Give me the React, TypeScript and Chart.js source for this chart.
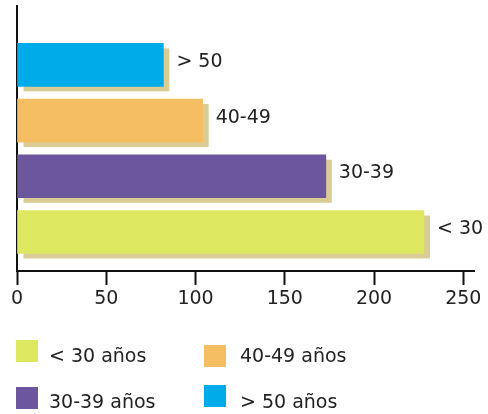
import React, { useEffect, useRef } from "react";
import { Chart, registerables } from "chart.js";
Chart.register(...registerables);

// ---- data ----
const categories = ["> 50", "40-49", "30-39", "< 30"];
const values = [82, 104, 173, 228];
const barColors = ["#00abea", "#f5be62", "#6c569e", "#dde75f"];
const legendLabels = ["> 50 años", "40-49 años", "30-39 años", "< 30 años"];
// legend grid, row-major (row1: col1, col2; row2: col1, col2) -> index into categories
const legendOrder = [3, 1, 2, 0];
const xTicks = [0, 50, 100, 150, 200, 250];

const SHADOW = "#d9cc95";
const TEXT = "#222222";
const FONT = "DejaVu Sans";
const FONT_SIZE = 19;

const shadowPlugin = {
  id: "barShadow",
  beforeDatasetsDraw(chart: any) {
    const meta = chart.getDatasetMeta(0);
    const ctx = chart.ctx;
    ctx.save();
    ctx.fillStyle = SHADOW;
    meta.data.forEach((bar: any) => {
      const { x, y, base, height } = bar.getProps(["x", "y", "base", "height"], true);
      ctx.fillRect(base + 6, y - height / 2 + 5, x - base, height);
    });
    ctx.restore();
  },
};

const labelPlugin = {
  id: "barLabels",
  afterDatasetsDraw(chart: any) {
    const meta = chart.getDatasetMeta(0);
    const ctx = chart.ctx;
    ctx.save();
    ctx.fillStyle = TEXT;
    ctx.font = `${FONT_SIZE}px "${FONT}"`;
    ctx.textAlign = "left";
    ctx.textBaseline = "alphabetic";
    meta.data.forEach((bar: any, i: number) => {
      const { x, y } = bar.getProps(["x", "y"], true);
      ctx.fillText(categories[i], x + 13, y + 2);
    });
    ctx.restore();
  },
};

const legendPlugin = {
  id: "gridLegend",
  afterDraw(chart: any) {
    const ctx = chart.ctx;
    const colX = [16, 204];
    const textX = [49, 240];
    const boxTop = [[340, 345], [387, 385]];
    const baseY = [362, 408];
    const box = 22;
    ctx.save();
    ctx.font = `${FONT_SIZE}px "${FONT}"`;
    ctx.textAlign = "left";
    ctx.textBaseline = "alphabetic";
    legendOrder.forEach((idx, k) => {
      const row = Math.floor(k / 2);
      const col = k % 2;
      ctx.fillStyle = barColors[idx];
      ctx.fillRect(colX[col], boxTop[row][col], box, box);
      ctx.fillStyle = TEXT;
      ctx.fillText(legendLabels[idx], textX[col], baseY[row]);
    });
    ctx.restore();
  },
};

export default function App() {
  const ref = useRef<HTMLCanvasElement>(null);
  useEffect(() => {
    if (!ref.current) return;
    const chart = new Chart(ref.current, {
      type: "bar",
      data: {
        datasets: [
          {
            data: values.map((v, i) => ({ x: v, y: i })),
            backgroundColor: barColors,
            borderWidth: 0,
            barThickness: 43,
          } as any,
        ],
      },
      options: {
        indexAxis: "y",
        animation: false,
        responsive: false,
        events: [],
        layout: { padding: { left: 17, right: 14, top: 6, bottom: 98 } },
        plugins: { legend: { display: false }, tooltip: { enabled: false } },
        scales: {
          x: {
            type: "linear",
            min: 0,
            max: 256,
            afterBuildTicks: (scale: any) => {
              scale.ticks = xTicks.map((v) => ({ value: v }));
            },
            afterFit: (scale: any) => {
              scale.height = 45;
            },
            ticks: {
              includeBounds: false,
              padding: 3,
              color: TEXT,
              font: { family: FONT, size: FONT_SIZE },
              maxRotation: 0,
              autoSkip: false,
            },
            grid: {
              display: true,
              drawOnChartArea: false,
              drawTicks: true,
              tickLength: 14,
              tickWidth: 2,
              tickColor: "#111",
            },
            border: { display: true, width: 2, color: "#111" },
          },
          y: {
            type: "linear",
            reverse: true,
            offset: false,
            min: -1.056,
            max: 3.7,
            z: 1,
            afterFit: (scale: any) => {
              scale.width = 0;
            },
            ticks: { display: false },
            grid: { display: false },
            border: { display: true, width: 2, color: "#111" },
          },
        },
      } as any,
      plugins: [shadowPlugin, labelPlugin, legendPlugin],
    });
    return () => chart.destroy();
  }, []);
  return (
    <div style={{ position: "fixed", left: 0, top: 0, width: 488, height: 414, background: "#fff" }}>
      <canvas ref={ref} width={488} height={414} style={{ display: "block" }} />
    </div>
  );
}
